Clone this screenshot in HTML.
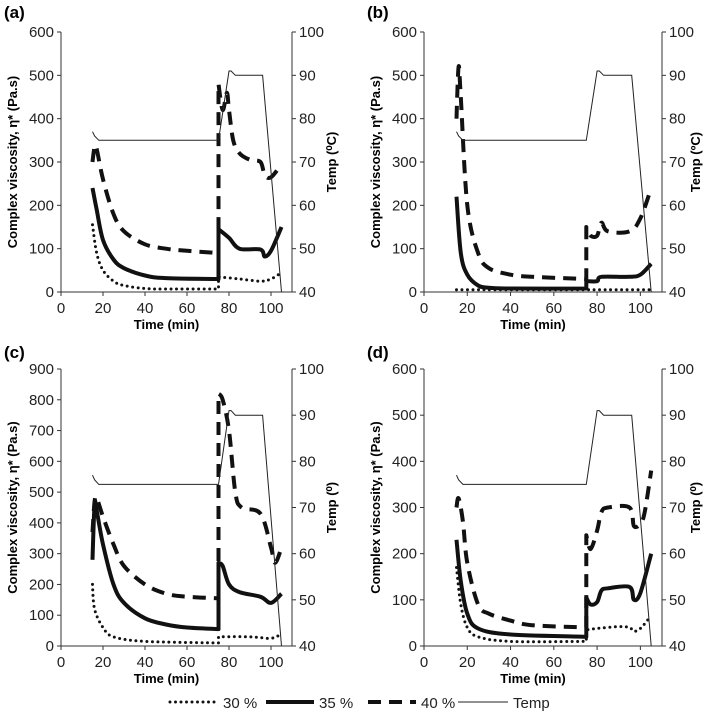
<!DOCTYPE html>
<html><head><meta charset="utf-8"><style>
body{margin:0;background:#fff}
svg{display:block;font-family:"Liberation Sans",Arial,sans-serif}
</style></head><body>
<svg id="c" width="709" height="720" viewBox="0 0 709 720"></svg>
<script>
const xTicks=[0,20,40,60,80,100];
const tempTime=[15,16,18,75,80,81,83,96,105];
const tempVal=[77,76,75,75,91,91,90,90,40];
const panelLabels=["(a)","(b)","(c)","(d)"];
const yMaxes=[600,600,900,600];
const ySteps=[100,100,100,100];
const tempTitles=["Temp (⁰C)","Temp (ºC)","Temp (⁰)","Temp (⁰)"];
// panel a
const a30t=[15,17,20,25,30,40,50,75,75,85,95,100,105], a30v=[155,90,50,25,15,8,7,7,35,30,25,30,45];
const a35t=[15,17,20,25,30,40,50,75,75,80,85,95,97,100,105], a35v=[240,190,120,75,55,38,32,30,145,125,100,98,82,95,150];
const a40t=[15,16,17,20,25,30,40,50,60,75,75,77,79,80,82,85,90,95,97,100,105], a40v=[300,335,330,260,180,140,110,100,95,90,480,420,460,420,350,320,305,300,270,265,295];
// panel b
const b30t=[15,105], b30v=[5,5];
const b35t=[15,17,20,25,30,40,75,75,80,82,95,100,105], b35v=[220,90,40,15,10,8,8,25,25,35,35,40,65];
const b40t=[15,16,17,20,25,30,40,50,75,75,77,80,82,85,95,100,105], b40v=[400,520,450,200,90,55,40,35,30,150,130,130,160,140,140,170,240];
// panel c
const c30t=[15,16,20,25,40,75,75,90,100,105], c30v=[200,120,60,30,15,10,30,30,25,40];
const c35t=[15,16,17,20,25,30,40,50,60,75,75,77,80,85,95,100,105], c35v=[280,460,440,330,200,140,90,70,60,55,270,260,200,175,160,140,170];
const c40t=[15,16,17,20,25,30,40,50,60,75,75,77,80,83,86,95,100,102,105], c40v=[370,470,480,420,330,260,200,170,160,155,820,800,700,500,450,430,320,270,320];
// panel d
const d30t=[15,17,20,25,40,75,75,80,90,95,97,100,104], d30v=[170,90,40,20,10,10,35,38,42,40,32,38,60];
const d35t=[15,17,20,25,40,75,75,77,80,82,85,95,97,100,105], d35v=[230,140,70,38,25,20,105,90,95,120,125,128,100,115,200];
const d40t=[15,16,18,20,25,30,40,50,75,75,77,80,82,85,95,97,100,102,105], d40v=[300,320,270,180,90,70,55,45,40,240,210,250,290,300,300,260,265,290,380];

const series=[[[a30t,a30v],[a35t,a35v],[a40t,a40v]],[[b30t,b30v],[b35t,b35v],[b40t,b40v]],[[c30t,c30v],[c35t,c35v],[c40t,c40v]],[[d30t,d30v],[d35t,d35v],[d40t,d40v]]];
const styles=[{w:3,d:"0 5.5",cap:"round",n:"series-30"},{w:4,d:"",cap:"butt",n:"series-35"},{w:4,d:"13 8",cap:"butt",n:"series-40"}];
const geo=[{x0:61,x1:292,y0:32,y1:292,ox:0,oy:0,tt:336},{x0:424,x1:662,y0:32,y1:292,ox:363,oy:0,tt:700},{x0:61,x1:292,y0:369,y1:646,ox:0,oy:340,tt:336},{x0:424,x1:662,y0:369,y1:646,ox:363,oy:340,tt:700}];
const NS="http://www.w3.org/2000/svg";
const svg=document.getElementById('c');
function mk(t,a,p){const e=document.createElementNS(NS,t);for(const k in a)e.setAttribute(k,a[k]);(p||svg).appendChild(e);return e;}
function smooth(pts){
  let d='';let segs=[[pts[0]]];
  for(let k=1;k<pts.length;k++){if(Math.abs(pts[k][0]-pts[k-1][0])<0.01){segs.push([pts[k]]);}else segs[segs.length-1].push(pts[k]);}
  segs.forEach((s,si)=>{
    d+=(si?'L':'M')+s[0][0].toFixed(1)+','+s[0][1].toFixed(1);
    for(let k=0;k<s.length-1;k++){const p0=s[k-1]||s[k],p1=s[k],p2=s[k+1],p3=s[k+2]||s[k+1];
      const c1=[p1[0]+(p2[0]-p0[0])/6,p1[1]+(p2[1]-p0[1])/6],c2=[p2[0]-(p3[0]-p1[0])/6,p2[1]-(p3[1]-p1[1])/6];
      d+=`C${c1[0].toFixed(1)},${c1[1].toFixed(1)} ${c2[0].toFixed(1)},${c2[1].toFixed(1)} ${p2[0].toFixed(1)},${p2[1].toFixed(1)}`;}
  });
  return d;
}
geo.forEach((g,i)=>{
  const grp=mk('g',{});
  
  
  const ym=yMaxes[i];
  const X=t=>g.x0+(t/110)*(g.x1-g.x0);
  const Y=v=>g.y1-(v/ym)*(g.y1-g.y0);
  const YT=v=>g.y1-((v-40)/60)*(g.y1-g.y0);
  let t=mk('text',{x:g.ox+4,y:g.oy+18,'font-size':17,'font-weight':'bold'},grp);t.textContent=panelLabels[i];
  
  mk('path',{d:`M${g.x0},${g.y0}V${g.y1}H${g.x1}V${g.y0}`,stroke:'#333',fill:'none','stroke-width':1},grp);
  for(let v=0;v<=ym;v+=ySteps[i]){const y=Y(v);mk('line',{x1:g.x0-4,x2:g.x0,y1:y,y2:y,stroke:'#333'},grp);
    const tx=mk('text',{x:g.x0-7,y:y+5,'font-size':15,'text-anchor':'end',fill:'#222'},grp);tx.textContent=v;
    }
  for(let v=40;v<=100;v+=10){const y=YT(v);mk('line',{x1:g.x1,x2:g.x1+4,y1:y,y2:y,stroke:'#333'},grp);
    const tx=mk('text',{x:g.x1+7,y:y+5,'font-size':15,fill:'#222'},grp);tx.textContent=v;
    }
  xTicks.forEach(v=>{const x=X(v);mk('line',{x1:x,x2:x,y1:g.y1,y2:g.y1+4,stroke:'#333'},grp);
    const tx=mk('text',{x:x,y:g.y1+21,'font-size':15,'text-anchor':'middle',fill:'#222'},grp);tx.textContent=v;
    });
  t=mk('text',{x:(g.x0+g.x1)/2-10,y:g.y1+37,'font-size':13,'font-weight':'bold','text-anchor':'middle'},grp);t.textContent='Time (min)';
  
  const cy=(g.y0+g.y1)/2;
  t=mk('text',{x:0,y:0,'font-size':13,'font-weight':'bold','text-anchor':'middle',transform:`translate(${g.ox+17},${cy}) rotate(-90)`},grp);t.textContent='Complex  viscosity, η* (Pa.s)';
  
  t=mk('text',{x:0,y:0,'font-size':13,'font-weight':'bold','text-anchor':'middle',transform:`translate(${g.tt},${cy}) rotate(-90)`},grp);t.textContent=tempTitles[i];
  
  series[i].forEach((s,j)=>{const st=styles[j];
    const pts=s[0].map((tt,k)=>[X(tt),Y(s[1][k])]);
    const p=mk('path',{d:smooth(pts),fill:'none',stroke:'#111','stroke-width':st.w,'stroke-dasharray':st.d,'stroke-linecap':st.cap,'stroke-linejoin':'round'},grp);
    });
  const td=tempTime.map((tt,k)=>(k?'L':'M')+X(tt).toFixed(1)+','+YT(tempVal[k]).toFixed(1)).join('');
  const tp=mk('path',{d:td,fill:'none',stroke:'#222','stroke-width':1},grp);
  
});
const lg=mk('g',{});

const legend=["30 %","35 %","40 %"];
const lx=[170,266,368];
legend.forEach((l,j)=>{const st=styles[j];
  mk('line',{x1:lx[j],x2:lx[j]+48,y1:702,y2:702,stroke:'#111','stroke-width':st.w,'stroke-dasharray':st.d,'stroke-linecap':st.cap},lg);
  const t=mk('text',{x:lx[j]+53,y:708,'font-size':15,fill:'#222'},lg);t.textContent=l;
  });
mk('line',{x1:458,x2:508,y1:702,y2:702,stroke:'#222','stroke-width':1},lg);
const tl=mk('text',{x:513,y:708,'font-size':15,fill:'#222'},lg);tl.textContent='Temp';

</script>
</body></html>
